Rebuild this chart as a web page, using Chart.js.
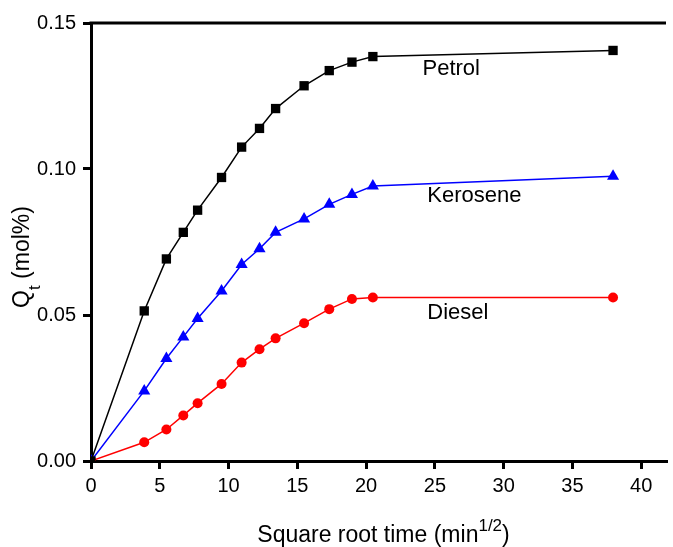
<!DOCTYPE html>
<html>
<head>
<meta charset="utf-8">
<script src="https://cdn.jsdelivr.net/npm/chart.js@4.4.0/dist/chart.umd.min.js"></script>
<style>
  html, body { margin: 0; padding: 0; background: #fff; }
  #wrap { width: 673px; height: 547px; }
</style>
</head>
<body>
<div id="wrap"><canvas id="myChart"></canvas></div>
<script>
//Data (square root time in min^1/2, uptake in mol%)
const sqrtTime = [0, 3.87, 5.48, 6.71, 7.75, 9.49, 10.95, 12.25, 13.42, 15.49, 17.32, 18.97, 20.49, 37.95];
const petrol = [0, 0.0514, 0.0692, 0.0783, 0.0859, 0.0971, 0.1075, 0.1139, 0.1207, 0.1285, 0.1337, 0.1366, 0.1385, 0.1406];
const kerosene = [0, 0.0240, 0.0351, 0.0425, 0.0488, 0.0582, 0.0673, 0.0727, 0.0783, 0.0829, 0.0879, 0.0913, 0.0942, 0.0975];
const diesel = [0, 0.0064, 0.0108, 0.0156, 0.0198, 0.0264, 0.0337, 0.0383, 0.0420, 0.0472, 0.0520, 0.0555, 0.0560, 0.0560];
const seriesNames = ['Petrol', 'Kerosene', 'Diesel'];
const xTicks = [0, 5, 10, 15, 20, 25, 30, 35, 40];
const yTicks = [0, 0.05, 0.10, 0.15];

const font = '"Liberation Sans", Arial, sans-serif';

function toPoints(values) {
    return sqrtTime.map((x, i) => ({ x: x, y: values[i] }));
}

//Titles, curve names and top frame line
const textPlugin = {
    id: 'textPlugin',
    afterDraw(chart) {
        const c = chart.ctx;
        const area = chart.chartArea;
        const xs = chart.scales.x;
        const ys = chart.scales.y;
        c.save();
        c.strokeStyle = '#000';
        c.lineWidth = 3;
        c.beginPath();
        c.moveTo(area.left - 1.5, area.top);
        c.lineTo(area.right, area.top);
        c.stroke();

        c.fillStyle = '#000';
        c.textBaseline = 'alphabetic';
        c.textAlign = 'left';

        // curve names, placed in data units
        const namePos = [[24.1, 0.1322], [24.45, 0.0888], [24.45, 0.0486]];
        c.font = '22px ' + font;
        seriesNames.forEach((name, i) => {
            c.fillText(name, xs.getPixelForValue(namePos[i][0]), ys.getPixelForValue(namePos[i][1]));
        });

        // x title with superscript
        const big = '23px ' + font;
        const small = '17px ' + font;
        c.font = big;
        const w1 = c.measureText('Square root time (min').width;
        const w3 = c.measureText(')').width;
        c.font = small;
        const w2 = c.measureText('1/2').width;
        let x = (area.left + area.right) / 2 + 5 - (w1 + w2 + w3) / 2;
        const base = 542;
        c.font = big;
        c.fillText('Square root time (min', x, base);
        x += w1;
        c.font = small;
        c.fillText('1/2', x, base - 11);
        x += w2;
        c.font = big;
        c.fillText(')', x, base);

        // y title with subscript
        c.font = big;
        const q = c.measureText('Q').width;
        const rest = c.measureText(' (mol%)').width;
        c.font = small;
        const t = c.measureText('t').width;
        c.translate(29, (area.top + area.bottom) / 2 + 15);
        c.rotate(-Math.PI / 2);
        let y = -(q + t + rest) / 2;
        c.font = big;
        c.fillText('Q', y, 0);
        y += q;
        c.font = small;
        c.fillText('t', y, 11);
        y += t;
        c.font = big;
        c.fillText(' (mol%)', y, 0);
        c.restore();
    }
};

const ctx = document.getElementById('myChart').getContext('2d');
const myChart = new Chart(ctx, {
    type: 'line',
    data: {
        datasets: [{
            label: seriesNames[0],
            data: toPoints(petrol),
            borderColor: '#000000',
            backgroundColor: '#000000',
            borderWidth: 1.5,
            pointStyle: 'rect',
            pointRadius: 6.6,
            pointBorderWidth: 0
        }, {
            label: seriesNames[1],
            data: toPoints(kerosene),
            borderColor: '#0000ff',
            backgroundColor: '#0000ff',
            borderWidth: 1.5,
            pointStyle: 'triangle',
            pointRadius: 7,
            pointBorderWidth: 0
        }, {
            label: seriesNames[2],
            data: toPoints(diesel),
            borderColor: '#ff0000',
            backgroundColor: '#ff0000',
            borderWidth: 1.5,
            pointStyle: 'circle',
            pointRadius: 5,
            pointBorderWidth: 0
        }]
    },
    options: {
        animation: false,
        responsive: true,
        maintainAspectRatio: false,
        layout: { padding: { top: 23, right: 0, left: 0, bottom: 0 } },
        plugins: {
            legend: { display: false },
            tooltip: { enabled: false }
        },
        scales: {
            x: {
                type: 'linear',
                min: 0,
                max: 41.8,
                afterFit: function (scale) { scale.height = 86; },
                afterBuildTicks: function (scale) { scale.ticks = xTicks.map(v => ({ value: v })); },
                border: { display: true, color: '#000', width: 3 },
                grid: { display: true, drawOnChartArea: false, drawTicks: true, tickLength: 8, tickWidth: 3, tickColor: '#000', color: '#000', lineWidth: 3 },
                ticks: {
                    color: '#000',
                    padding: 5,
                    maxRotation: 0,
                    font: { family: font, size: 20 },
                    callback: function (v) { return v; }
                }
            },
            y: {
                min: 0,
                max: 0.15,
                afterFit: function (scale) { scale.width = 91; },
                afterBuildTicks: function (scale) { scale.ticks = yTicks.map(v => ({ value: v })); },
                border: { display: true, color: '#000', width: 3 },
                grid: { display: true, drawOnChartArea: false, drawTicks: true, tickLength: 8, tickWidth: 3, tickColor: '#000', color: '#000', lineWidth: 3 },
                ticks: {
                    color: '#000',
                    padding: 7,
                    font: { family: font, size: 20 },
                    callback: function (v) { return v.toFixed(2); }
                }
            }
        }
    },
    plugins: [textPlugin]
});
</script>
</body>
</html>
